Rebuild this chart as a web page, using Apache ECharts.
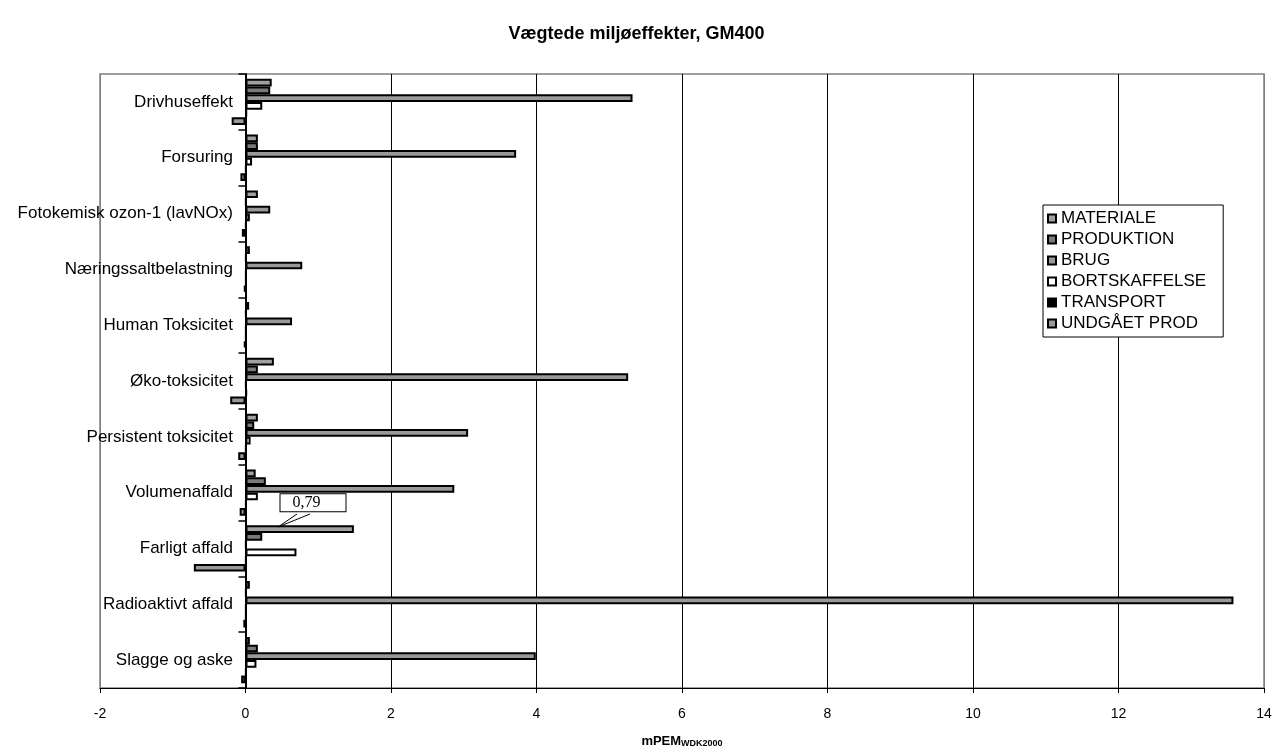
<!DOCTYPE html>
<html lang="da">
<head>
    <meta charset="UTF-8">
    <title>Vægtede miljøeffekter, GM400</title>
    <script src="https://cdn.jsdelivr.net/npm/echarts@6/dist/echarts.min.js"></script>
    <style>
        html, body { margin: 0; padding: 0; background: #fff; }
    </style>
</head>
<body>
<div id="main" style="width: 1273px;height:753px;"></div>
<script>
    var categories = ['Drivhuseffekt', 'Forsuring', 'Fotokemisk ozon-1 (lavNOx)', 'Næringssaltbelastning',
        'Human Toksicitet', 'Øko-toksicitet', 'Persistent toksicitet', 'Volumenaffald',
        'Farligt affald', 'Radioaktivt affald', 'Slagge og aske'];
    var seriesNames = ['MATERIALE', 'PRODUKTION', 'BRUG', 'BORTSKAFFELSE', 'TRANSPORT', 'UNDGÅET PROD'];
    var materiale = [0.36, 0.17, 0.17, 0.06, 0.05, 0.39, 0.17, 0.14, 1.49, 0.06, 0.06];
    var produktion = [0.34, 0.17, 0.01, 0.01, 0.01, 0.17, 0.12, 0.28, 0.23, 0.01, 0.17];
    var brug = [5.32, 3.72, 0.34, 0.78, 0.64, 5.26, 3.06, 2.87, 0.01, 13.58, 3.99];
    var bortskaffelse = [0.23, 0.09, 0.06, 0.01, 0.01, 0.01, 0.07, 0.17, 0.70, 0.01, 0.15];
    var transport = [0.02, 0.01, 0.01, 0.01, 0.01, 0.02, 0.01, 0.01, 0.01, 0.01, 0.01];
    var undgaaet = [-0.19, -0.07, -0.05, -0.02, -0.02, -0.21, -0.10, -0.08, -0.71, -0.03, -0.06];
    var callout = {index: 8, text: '0,79'};

    var colors = ['#a0a0a0', '#7a7a7a', '#999999', '#ffffff', '#000000', '#999999'];
    var font = 'Liberation Sans, Arial, sans-serif';

    var myChart = echarts.init(document.getElementById('main'));

    // label box on MATERIALE / Farligt affald
    var matData = materiale.map(function (v, i) {
        if (i !== callout.index) return v;
        return {
            value: v,
            label: {
                show: true,
                formatter: callout.text,
                position: [35, -31],
                fontFamily: 'Liberation Serif, Times New Roman, serif',
                fontSize: 16,
                color: '#000',
                backgroundColor: '#fff',
                borderColor: '#000',
                borderWidth: 1,
                padding: [1, 25, 0, 12]
            }
        };
    });

    var dataList = [matData, produktion, brug, bortskaffelse, transport, undgaaet];
    var series = [];
    for (var i = 0; i < seriesNames.length; i++) {
        series.push({
            name: seriesNames[i],
            type: 'bar',
            barGap: '0%',
            barCategoryGap: '17%',
            itemStyle: {color: colors[i], borderColor: '#000', borderWidth: 2},
            emphasis: {disabled: true},
            data: dataList[i]
        });
    }

    var splitColors = ['#808080', '#000', '#000', '#000', '#000', '#000', '#000', '#000', '#808080'];

    var option = {
        animation: false,
        color: colors,
        title: {
            text: 'Vægtede miljøeffekter, GM400',
            left: 'center',
            top: 20,
            textStyle: {fontFamily: font, fontSize: 18, fontWeight: 'bold', color: '#000'}
        },
        legend: {
            orient: 'vertical',
            left: 1043,
            top: 205,
            backgroundColor: '#fff',
            borderColor: '#000',
            borderWidth: 1,
            borderRadius: 0,
            padding: [5, 17, 5, 4],
            itemWidth: 8,
            itemHeight: 8,
            itemGap: 4,
            icon: 'rect',
            textStyle: {fontFamily: font, fontSize: 17, color: '#000'},
            data: seriesNames
        },
        grid: {
            left: 100,
            right: 9,
            top: 74,
            bottom: 65,
            outerBoundsMode: 'none',
            containLabel: false,
            show: true,
            borderColor: '#808080',
            borderWidth: 1.5
        },
        xAxis: {
            type: 'value',
            min: -2,
            max: 14,
            interval: 2,
            name: 'mPEM{s|WDK2000}',
            nameLocation: 'middle',
            nameGap: 46,
            nameTextStyle: {
                fontFamily: font, fontSize: 13, fontWeight: 'bold', color: '#000',
                rich: {s: {fontFamily: font, fontSize: 9, fontWeight: 'bold', color: '#000', padding: [5, 0, 0, 0]}}
            },
            axisLine: {show: true, lineStyle: {color: '#000', width: 1}},
            axisTick: {show: true, length: 5, lineStyle: {color: '#000'}},
            axisLabel: {fontFamily: font, fontSize: 14, color: '#000', margin: 19},
            splitLine: {show: true, lineStyle: {color: splitColors, width: 1}}
        },
        yAxis: {
            type: 'category',
            inverse: true,
            data: categories,
            axisLine: {show: true, onZero: true, lineStyle: {color: '#000', width: 2}},
            axisTick: {show: true, length: 7, lineStyle: {color: '#000', width: 1.5}},
            // labels sit just left of the zero line, not at the grid edge
            axisLabel: {fontFamily: font, fontSize: 17, color: '#000', margin: -133},
            splitLine: {show: false}
        },
        series: series,
        graphic: [{
            type: 'polyline',
            z: 100,
            shape: {points: [[297, 514], [278, 527], [310, 514]]},
            style: {stroke: '#000', lineWidth: 1, fill: null}
        }]
    };
    myChart.setOption(option);
</script>
</body>
</html>
